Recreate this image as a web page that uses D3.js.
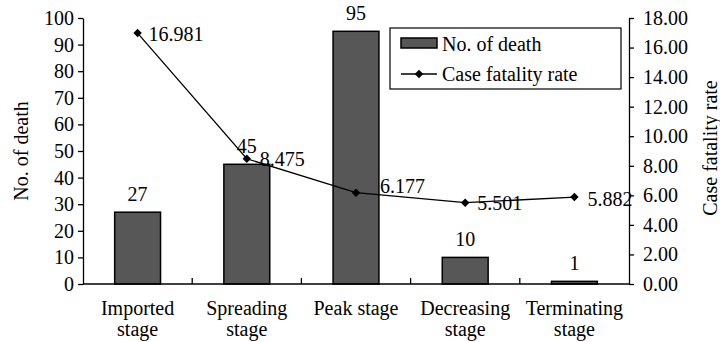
<!DOCTYPE html>
<html>
<head>
<meta charset="utf-8">
<script src="https://cdn.jsdelivr.net/npm/d3@7"></script>
<style>
  body { margin: 0; background: #fff; }
  svg text { font-family: "Liberation Serif", "Times New Roman", serif; fill: #000; }
</style>
</head>
<body>
<svg id="chart" width="720" height="342"></svg>
<script>
var stages = ["Imported stage", "Spreading stage", "Peak stage", "Decreasing stage", "Terminating stage"];
var stageLines = [["Imported", "stage"], ["Spreading", "stage"], ["Peak stage"], ["Decreasing", "stage"], ["Terminating", "stage"]];
var deaths = [27, 45, 95, 10, 1];
var fatalityRate = [16.981, 8.475, 6.177, 5.501, 5.882];
var rateLabels = ["16.981", "8.475", "6.177", "5.501", "5.882"];
var deathTicks = d3.range(0, 101, 10);
var rateTicks = d3.range(0, 19, 2);

// label nudges for the rate labels (dx, dy in px)
var rateLabelShift = [[11, 8], [13, 7], [24, 0], [12, 7], [13, 9]];

var fontSize = "20px";
var svg = d3.select("svg#chart");

var plotLeft = 83, plotRight = 629, plotTop = 18, plotBottom = 284;

var x = d3.scaleBand().domain(stages).range([plotLeft, plotRight]).paddingInner(0).paddingOuter(0);
var yDeath = d3.scaleLinear().domain([0, 100]).range([plotBottom, plotTop]);
var yRate = d3.scaleLinear().domain([0, 18]).range([plotBottom, plotTop]);
var barW = x.bandwidth() * 0.42;

// bars
svg.append("g")
   .selectAll("rect")
   .data(deaths)
   .enter().append("rect")
   .attr("x", function(d, i) { return x(stages[i]) + x.bandwidth() / 2 - barW / 2; })
   .attr("y", function(d) { return yDeath(d); })
   .attr("width", barW)
   .attr("height", function(d) { return plotBottom - yDeath(d); })
   .attr("fill", "#575757")
   .attr("stroke", "#000")
   .attr("stroke-width", 1.5);

// bar labels
svg.append("g")
   .selectAll("text")
   .data(deaths)
   .enter().append("text")
   .attr("x", function(d, i) { return x(stages[i]) + x.bandwidth() / 2; })
   .attr("y", function(d) { return yDeath(d) - 11; })
   .attr("text-anchor", "middle")
   .style("font-size", fontSize)
   .text(function(d) { return d; });

// left axis
var leftAxis = svg.append("g")
   .attr("transform", "translate(" + plotLeft + ",0)")
   .call(d3.axisLeft(yDeath).tickValues(deathTicks).tickSize(5).tickSizeOuter(0).tickPadding(4));

// right axis
var rightAxis = svg.append("g")
   .attr("transform", "translate(" + plotRight + ",0)")
   .call(d3.axisRight(yRate).tickValues(rateTicks).tickSize(5).tickSizeOuter(0).tickPadding(9)
          .tickFormat(d3.format(".2f")));

[leftAxis, rightAxis].forEach(function(a) {
  a.selectAll("path, line").attr("stroke", "#000").attr("stroke-width", 1.3);
  a.selectAll("text").style("font-size", fontSize).attr("fill", "#000")
   .style("font-family", "'Liberation Serif', 'Times New Roman', serif");
});

// x axis
var xAxis = svg.append("g");
xAxis.append("line")
     .attr("x1", plotLeft).attr("x2", plotRight)
     .attr("y1", plotBottom).attr("y2", plotBottom)
     .attr("stroke", "#000").attr("stroke-width", 1.3);
xAxis.selectAll("line.tick")
     .data(stages.slice(1))
     .enter().append("line")
     .attr("class", "tick")
     .attr("x1", function(d) { return x(d); })
     .attr("x2", function(d) { return x(d); })
     .attr("y1", plotBottom).attr("y2", plotBottom - 6)
     .attr("stroke", "#000").attr("stroke-width", 1.3);

var catText = xAxis.selectAll("text")
     .data(stageLines)
     .enter().append("text")
     .attr("text-anchor", "middle")
     .style("font-size", fontSize);
catText.selectAll("tspan")
     .data(function(d, i) { return d.map(function(s) { return { s: s, i: i }; }); })
     .enter().append("tspan")
     .attr("x", function(d) { return x(stages[d.i]) + x.bandwidth() / 2; })
     .attr("y", function(d, j) { return 315 + j * 21; })
     .text(function(d) { return d.s; });

// rate line
var linePts = fatalityRate.map(function(v, i) { return [x(stages[i]) + x.bandwidth() / 2, yRate(v)]; });
svg.append("path")
   .attr("d", d3.line()(linePts))
   .attr("fill", "none")
   .attr("stroke", "#000")
   .attr("stroke-width", 1.3);

var diamond = d3.symbol().type(d3.symbolSquare).size(36);
svg.append("g")
   .selectAll("path")
   .data(linePts)
   .enter().append("path")
   .attr("d", diamond)
   .attr("transform", function(d) { return "translate(" + d[0] + "," + d[1] + ") rotate(45)"; })
   .attr("fill", "#000");

svg.append("g")
   .selectAll("text")
   .data(linePts)
   .enter().append("text")
   .attr("x", function(d, i) { return d[0] + rateLabelShift[i][0]; })
   .attr("y", function(d, i) { return d[1] + rateLabelShift[i][1]; })
   .style("font-size", fontSize)
   .text(function(d, i) { return rateLabels[i]; });

// axis titles
svg.append("text")
   .attr("transform", "translate(28," + ((plotTop + plotBottom) / 2) + ") rotate(-90)")
   .attr("text-anchor", "middle")
   .style("font-size", fontSize)
   .text("No. of death");

svg.append("text")
   .attr("transform", "translate(717,148) rotate(-90)")
   .attr("text-anchor", "middle")
   .style("font-size", fontSize)
   .text("Case fatality rate");

// legend
var legend = svg.append("g");
legend.append("rect")
      .attr("x", 390).attr("y", 28).attr("width", 231).attr("height", 61)
      .attr("fill", "#fff").attr("stroke", "#000").attr("stroke-width", 1.2);
legend.append("rect")
      .attr("x", 401).attr("y", 38).attr("width", 36).attr("height", 10)
      .attr("fill", "#575757").attr("stroke", "#000").attr("stroke-width", 1.5);
legend.append("text")
      .attr("x", 442).attr("y", 51)
      .style("font-size", fontSize)
      .text("No. of death");
legend.append("line")
      .attr("x1", 401).attr("x2", 437).attr("y1", 74).attr("y2", 74)
      .attr("stroke", "#000").attr("stroke-width", 1.3);
legend.append("path")
      .attr("d", diamond)
      .attr("transform", "translate(419,74) rotate(45)")
      .attr("fill", "#000");
legend.append("text")
      .attr("x", 442).attr("y", 81)
      .style("font-size", fontSize)
      .text("Case fatality rate");
</script>
</body>
</html>
